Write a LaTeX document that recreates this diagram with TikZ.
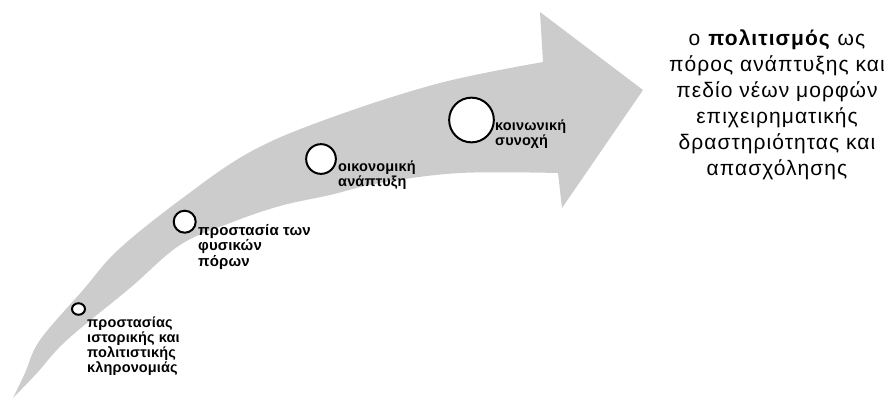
\documentclass[tikz,border=0pt]{standalone}
\usepackage{fontspec}
\setmainfont{Liberation Sans}
\newfontfamily\steplabelfont[LetterSpace=1]{Liberation Sans Bold}
\newfontfamily\goalfont[LetterSpace=5]{Liberation Sans}
\usetikzlibrary{shapes.geometric}
\definecolor{arrowgray}{RGB}{204,204,204}
\tikzset{
  dot/.style={ellipse, draw=black, fill=white, line width=2pt, inner sep=0pt},
  steplabel/.style={anchor=north west, inner sep=0pt, align=left,
    font=\steplabelfont\fontsize{14.5}{15}\selectfont},
  goal/.style={anchor=north, inner sep=0pt, align=center,
    font=\goalfont\fontsize{21}{26}\selectfont}
}
\begin{document}
\begin{tikzpicture}[x=1pt,y=-1pt]
\useasboundingbox (0,0) rectangle (893,400);
\fill[arrowgray]
  plot[smooth, tension=0.6] coordinates {(13,398) (25,373) (40,340) (83,290) (118,250) (180,200) (250,152) (330,118) (440,83) (543,62)}
  -- (540,12) -- (643,90) -- (562,208) -- (558,173)
  -- plot[smooth, tension=0.6] coordinates {(558,173) (460,173) (380,183) (330,195) (280,206) (230,223) (180,245) (130,288) (67,340) (37,373) (13,398)}
  -- cycle;
\node[dot, minimum width=13pt, minimum height=11.5pt] (c1) at (78.5,309) {};
\node[dot, minimum size=22pt] (c2) at (184.7,221.7) {};
\node[dot, minimum size=29.7pt] (c3) at (321,159) {};
\node[dot, minimum size=44.7pt] (c4) at (471.5,120) {};
\node[steplabel] (t1) at (87,317) {προστασίας\\ιστορικής και\\πολιτιστικής\\κληρονομιάς};
\node[steplabel, font=\steplabelfont\fontsize{15}{15.5}\selectfont] (t2) at (198,224) {προστασία των\\φυσικών\\πόρων};
\node[steplabel] (t3) at (338,161) {οικονομική\\ανάπτυξη};
\node[steplabel] (t4) at (495,120) {κοινωνική\\συνοχή};
\node[goal] (g) at (777,30) {ο \textbf{πολιτισμός} ως\\πόρος ανάπτυξης και\\πεδίο νέων μορφών\\επιχειρηματικής\\δραστηριότητας και\\απασχόλησης};
\end{tikzpicture}
\end{document}
